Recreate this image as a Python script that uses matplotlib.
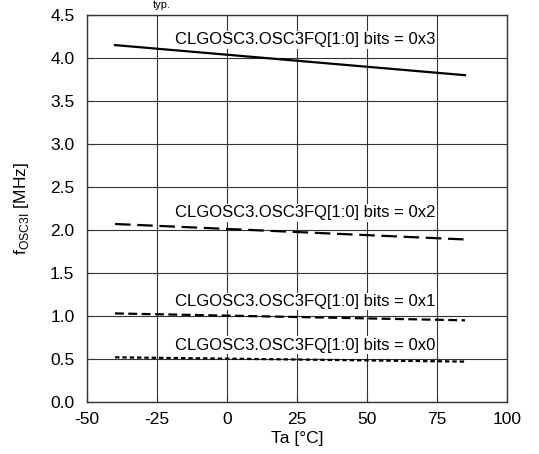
import matplotlib
matplotlib.use("Agg")
import matplotlib.pyplot as plt

plt.rcParams['font.family'] = ['Liberation Sans', 'DejaVu Sans']

temps = [-40, 85]
series_labels = ["CLGOSC3.OSC3FQ[1:0] bits = 0x3",
                 "CLGOSC3.OSC3FQ[1:0] bits = 0x2",
                 "CLGOSC3.OSC3FQ[1:0] bits = 0x1",
                 "CLGOSC3.OSC3FQ[1:0] bits = 0x0"]
f_0x3 = [4.15, 3.80]
f_0x2 = [2.07, 1.89]
f_0x1 = [1.03, 0.95]
f_0x0 = [0.52, 0.47]
xticks = [-50, -25, 0, 25, 50, 75, 100]
yticks = [0.0, 0.5, 1.0, 1.5, 2.0, 2.5, 3.0, 3.5, 4.0, 4.5]

fig = plt.figure(figsize=(5.39, 4.54), dpi=100)
ax = fig.add_axes([0.1614, 0.1145, 0.7792, 0.8525])

styles = [
    dict(linestyle='-'),
    dict(linestyle=(0, (7, 3))),
    dict(linestyle=(0, (4, 2))),
    dict(linestyle=(0, (2, 1.3))),
]
label_y = [4.21, 2.20, 1.17, 0.66]
for vals, st, lab, ly in zip([f_0x3, f_0x2, f_0x1, f_0x0], styles, series_labels, label_y):
    ax.plot(temps, vals, color='black', linewidth=1.6, zorder=3, **st)
    ax.text(28, ly, lab, ha='center', va='center', fontsize=12, zorder=4,
            bbox=dict(facecolor='white', edgecolor='none', pad=1.0))

ax.set_xlim(-50, 100)
ax.set_ylim(0, 4.5)
ax.set_xticks(xticks)
ax.set_yticks(yticks)
ax.set_xticklabels([f"{t:d}" for t in xticks])
ax.set_yticklabels([f"{t:.1f}" for t in yticks])
ax.grid(True, color='#333333', linewidth=0.8)
ax.tick_params(direction='in', length=4, labelsize=12.5, color='#333333')
ax.tick_params(axis='y', pad=9)
ax.tick_params(axis='x', pad=7)
for s in ax.spines.values():
    s.set_color('#333333')
    s.set_linewidth(1.0)

ax.set_xlabel("Ta [°C]", fontsize=12.5, labelpad=3)
ax.set_ylabel(r"f$_{\mathregular{OSC3I}}$ [MHz]", fontsize=12.5, labelpad=14)

fig.text(0.30, 1.0, "typ.", fontsize=8, ha='center', va='top')

fig.savefig("out.png", dpi=100)
